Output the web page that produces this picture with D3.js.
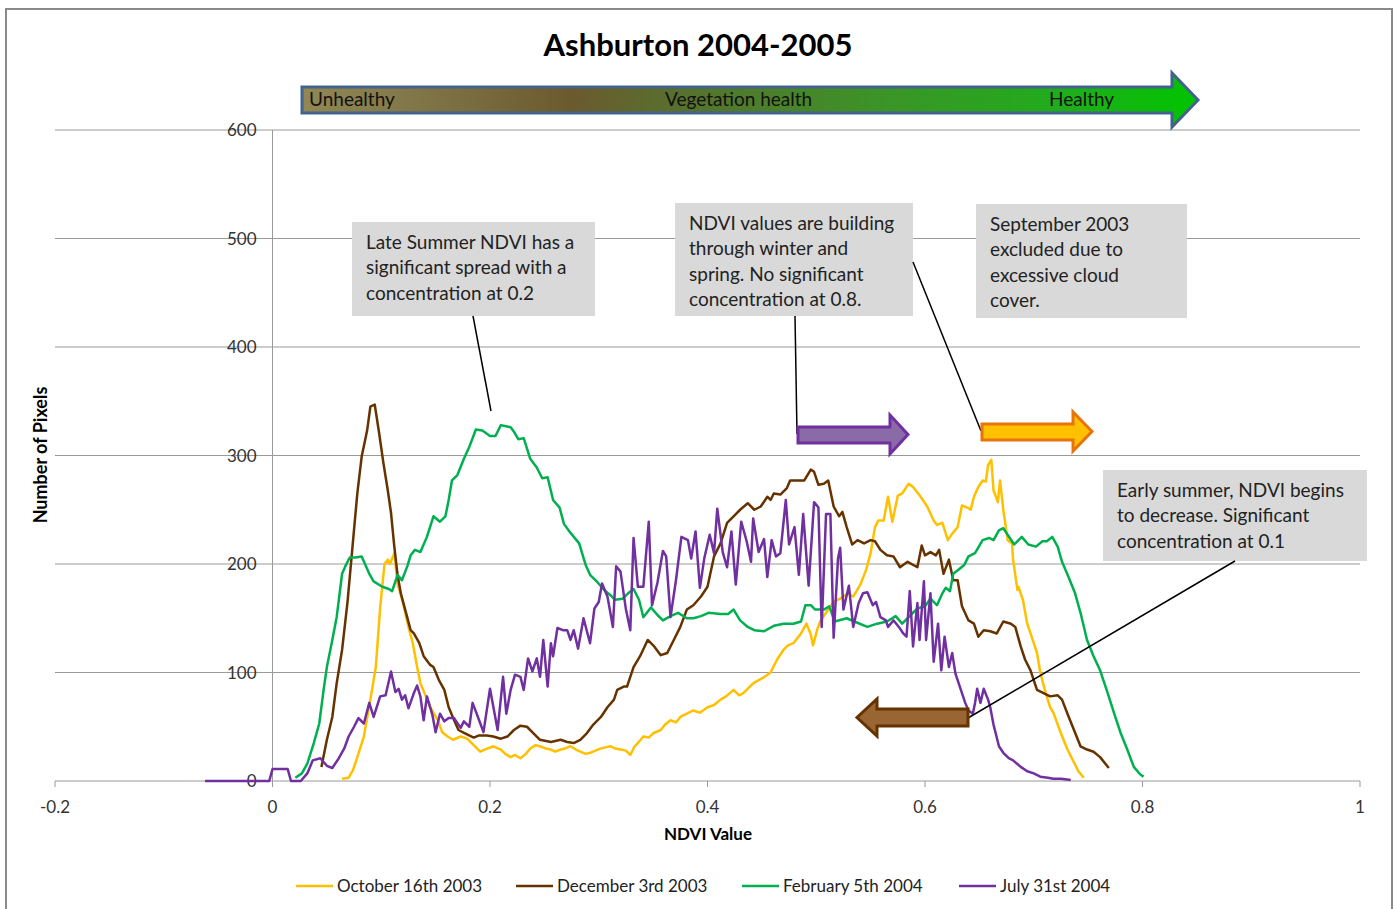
<!DOCTYPE html>
<html>
<head>
<meta charset="utf-8">
<script src="https://cdn.jsdelivr.net/npm/d3@7"></script>
<style>
  body { margin: 0; background: #fff; }
  svg text { font-family: Lato, "Open Sans", sans-serif; }
</style>
</head>
<body>
<svg id="chart" width="1397" height="909"></svg>
<script>
// values: [NDVI, number of pixels]
var october = [[0.064,2],[0.070,3],[0.074,10],[0.078,22],[0.084,41],[0.090,75],[0.095,105],[0.099,160],[0.103,200],[0.106,204],[0.108,200],[0.112,210],[0.115,182],[0.120,164],[0.125,142],[0.129,127],[0.133,105],[0.136,90],[0.141,78],[0.145,68],[0.152,56],[0.156,45],[0.161,41],[0.166,38],[0.173,41],[0.179,39],[0.185,33],[0.191,27],[0.198,30],[0.203,32],[0.210,29],[0.214,25],[0.219,22],[0.223,24],[0.228,21],[0.233,25],[0.237,30],[0.242,33],[0.246,32],[0.251,30],[0.256,29],[0.260,27],[0.265,29],[0.269,30],[0.274,32],[0.279,29],[0.283,27],[0.288,25],[0.292,26],[0.297,28],[0.302,30],[0.306,31],[0.311,32],[0.315,30],[0.320,29],[0.325,28],[0.329,24],[0.333,32],[0.336,35],[0.341,41],[0.346,40],[0.350,44],[0.357,47],[0.361,52],[0.366,56],[0.371,54],[0.375,59],[0.381,62],[0.387,65],[0.393,63],[0.400,68],[0.406,70],[0.412,75],[0.417,78],[0.424,84],[0.429,79],[0.433,81],[0.438,86],[0.442,90],[0.447,93],[0.451,95],[0.458,100],[0.464,112],[0.470,121],[0.474,125],[0.479,127],[0.486,136],[0.491,145],[0.495,135],[0.497,125],[0.501,140],[0.504,148],[0.509,155],[0.516,165],[0.522,168],[0.529,173],[0.534,170],[0.541,182],[0.546,195],[0.550,210],[0.554,234],[0.557,240],[0.562,240],[0.566,262],[0.570,239],[0.575,263],[0.579,265],[0.585,274],[0.589,271],[0.596,262],[0.602,253],[0.608,240],[0.611,236],[0.616,238],[0.621,222],[0.625,228],[0.630,234],[0.634,254],[0.639,252],[0.642,250],[0.645,262],[0.649,271],[0.653,277],[0.656,276],[0.658,291],[0.661,296],[0.663,268],[0.667,257],[0.669,277],[0.672,250],[0.676,222],[0.680,219],[0.681,204],[0.685,176],[0.686,179],[0.690,167],[0.694,145],[0.699,130],[0.703,118],[0.706,100],[0.711,81],[0.715,68],[0.718,63],[0.725,44],[0.731,29],[0.737,17],[0.741,9],[0.746,3]];

var december = [[0.045,13],[0.050,38],[0.055,59],[0.059,90],[0.064,121],[0.069,165],[0.075,232],[0.078,265],[0.082,299],[0.087,323],[0.090,345],[0.094,347],[0.098,321],[0.102,293],[0.106,268],[0.109,247],[0.112,216],[0.115,190],[0.118,173],[0.122,158],[0.127,139],[0.130,136],[0.135,127],[0.139,115],[0.145,107],[0.148,105],[0.153,93],[0.158,84],[0.162,68],[0.167,56],[0.171,47],[0.177,44],[0.185,40],[0.190,42],[0.197,42],[0.203,41],[0.210,39],[0.216,41],[0.222,47],[0.228,51],[0.234,50],[0.240,44],[0.246,38],[0.256,36],[0.265,38],[0.271,36],[0.277,35],[0.283,38],[0.289,44],[0.295,52],[0.302,59],[0.308,68],[0.314,75],[0.317,84],[0.323,87],[0.326,87],[0.332,105],[0.338,115],[0.345,130],[0.351,124],[0.357,116],[0.363,118],[0.369,130],[0.375,142],[0.381,158],[0.387,162],[0.394,170],[0.400,179],[0.406,207],[0.412,219],[0.418,238],[0.424,244],[0.430,250],[0.437,256],[0.443,250],[0.449,253],[0.455,262],[0.458,259],[0.461,265],[0.467,264],[0.473,270],[0.476,277],[0.489,277],[0.495,287],[0.498,285],[0.502,273],[0.507,274],[0.511,277],[0.516,253],[0.521,244],[0.524,248],[0.528,234],[0.533,218],[0.538,222],[0.544,219],[0.550,222],[0.554,221],[0.559,213],[0.565,208],[0.571,207],[0.577,197],[0.584,202],[0.593,197],[0.597,217],[0.600,208],[0.605,211],[0.610,208],[0.613,213],[0.617,191],[0.622,204],[0.626,185],[0.630,185],[0.634,161],[0.640,148],[0.645,145],[0.649,133],[0.654,139],[0.660,138],[0.666,136],[0.672,147],[0.679,145],[0.683,142],[0.688,124],[0.692,112],[0.697,102],[0.703,84],[0.709,81],[0.715,78],[0.722,79],[0.726,75],[0.731,62],[0.737,47],[0.743,32],[0.749,29],[0.755,27],[0.761,22],[0.769,12]];

var february = [[0.021,3],[0.027,7],[0.032,16],[0.038,35],[0.043,53],[0.047,84],[0.050,105],[0.055,130],[0.059,151],[0.064,191],[0.067,198],[0.071,206],[0.076,206],[0.082,207],[0.089,191],[0.093,184],[0.101,179],[0.107,177],[0.110,175],[0.115,190],[0.119,185],[0.124,198],[0.127,208],[0.131,213],[0.136,211],[0.142,225],[0.148,244],[0.154,239],[0.159,244],[0.162,259],[0.165,277],[0.170,282],[0.176,297],[0.181,308],[0.187,324],[0.193,323],[0.200,318],[0.205,318],[0.210,328],[0.219,326],[0.222,322],[0.226,315],[0.231,316],[0.237,297],[0.243,289],[0.248,279],[0.253,280],[0.258,259],[0.264,252],[0.268,237],[0.273,230],[0.282,219],[0.288,199],[0.292,190],[0.299,183],[0.305,176],[0.311,171],[0.315,167],[0.322,168],[0.327,173],[0.332,177],[0.337,167],[0.341,151],[0.348,160],[0.354,153],[0.359,148],[0.366,152],[0.373,155],[0.381,150],[0.387,150],[0.394,152],[0.401,155],[0.412,154],[0.419,154],[0.424,158],[0.430,148],[0.437,142],[0.443,139],[0.452,138],[0.461,143],[0.470,145],[0.479,145],[0.486,147],[0.490,162],[0.495,162],[0.499,158],[0.507,158],[0.512,161],[0.517,147],[0.528,150],[0.535,147],[0.547,142],[0.556,145],[0.565,147],[0.573,152],[0.579,145],[0.587,153],[0.593,159],[0.600,161],[0.605,168],[0.611,162],[0.616,173],[0.619,178],[0.623,175],[0.626,191],[0.631,195],[0.636,199],[0.640,207],[0.646,210],[0.653,222],[0.659,224],[0.663,222],[0.668,231],[0.672,233],[0.682,218],[0.689,225],[0.695,218],[0.702,216],[0.708,221],[0.712,221],[0.717,225],[0.722,216],[0.726,202],[0.732,188],[0.738,173],[0.743,155],[0.749,130],[0.755,115],[0.761,102],[0.768,81],[0.774,62],[0.780,44],[0.786,29],[0.792,13],[0.798,6],[0.801,4]];

var july = [[-0.062,0],[-0.003,0],[0.000,11],[0.014,11],[0.017,0],[0.026,0],[0.032,7],[0.037,19],[0.044,21],[0.050,14],[0.055,12],[0.061,21],[0.066,30],[0.070,41],[0.075,50],[0.079,58],[0.084,53],[0.089,72],[0.093,59],[0.099,78],[0.104,79],[0.109,101],[0.113,82],[0.116,85],[0.119,75],[0.122,79],[0.125,67],[0.130,81],[0.133,88],[0.136,78],[0.139,56],[0.142,78],[0.147,61],[0.150,45],[0.154,62],[0.158,55],[0.162,58],[0.167,58],[0.173,49],[0.176,55],[0.181,50],[0.184,72],[0.190,56],[0.194,45],[0.200,85],[0.207,47],[0.212,96],[0.215,62],[0.219,84],[0.223,98],[0.228,96],[0.231,84],[0.235,113],[0.239,101],[0.243,113],[0.246,96],[0.249,130],[0.253,87],[0.256,127],[0.258,115],[0.262,141],[0.267,139],[0.271,139],[0.274,130],[0.277,139],[0.281,122],[0.286,150],[0.292,127],[0.296,159],[0.300,165],[0.303,182],[0.308,170],[0.313,142],[0.316,198],[0.320,193],[0.325,158],[0.329,139],[0.332,224],[0.336,179],[0.341,179],[0.346,239],[0.349,162],[0.354,183],[0.359,212],[0.362,207],[0.366,151],[0.371,185],[0.376,225],[0.382,222],[0.385,205],[0.389,230],[0.393,178],[0.397,205],[0.402,227],[0.406,210],[0.409,251],[0.414,211],[0.418,197],[0.422,230],[0.426,181],[0.431,239],[0.436,221],[0.440,202],[0.442,242],[0.447,211],[0.452,223],[0.455,188],[0.459,222],[0.463,207],[0.467,210],[0.472,259],[0.475,218],[0.480,234],[0.484,190],[0.488,246],[0.493,180],[0.498,257],[0.502,252],[0.505,142],[0.509,246],[0.513,246],[0.516,132],[0.520,205],[0.522,215],[0.525,158],[0.530,180],[0.534,142],[0.539,164],[0.543,173],[0.547,174],[0.552,162],[0.555,165],[0.559,151],[0.564,148],[0.566,142],[0.571,148],[0.576,142],[0.580,136],[0.583,133],[0.586,175],[0.589,124],[0.593,164],[0.595,130],[0.599,184],[0.601,130],[0.605,173],[0.608,110],[0.612,145],[0.615,102],[0.618,133],[0.622,105],[0.625,118],[0.628,99],[0.631,90],[0.635,78],[0.637,72],[0.640,65],[0.644,62],[0.646,72],[0.648,85],[0.651,72],[0.654,85],[0.658,75],[0.660,68],[0.663,52],[0.668,32],[0.672,26],[0.677,21],[0.681,19],[0.688,13],[0.694,9],[0.700,7],[0.706,4],[0.713,3],[0.718,2],[0.725,2],[0.734,1]];

var seriesNames = ["October 16th 2003", "December 3rd 2003", "February 5th 2004", "July 31st 2004"];
var seriesColors = ["#FFC000", "#663300", "#00B050", "#7030A0"];
var yTicks = [0, 100, 200, 300, 400, 500, 600];
var xTicks = [-0.2, 0, 0.2, 0.4, 0.6, 0.8, 1];

var callouts = [
  {x: 352, y: 222, w: 243, h: 94, lines: ["Late Summer NDVI has a", "significant spread with a", "concentration at 0.2"]},
  {x: 675, y: 203, w: 238, h: 113, lines: ["NDVI values are building", "through winter and", "spring. No significant", "concentration at 0.8."]},
  {x: 976, y: 204, w: 211, h: 114, lines: ["September 2003", "excluded due to", "excessive cloud", "cover."]},
  {x: 1103, y: 470, w: 264, h: 91, lines: ["Early summer, NDVI begins", "to decrease. Significant", "concentration at 0.1"]}
];

var svg = d3.select("#chart");

// outer frame
svg.append("rect")
  .attr("x", 6).attr("y", 9)
  .attr("width", 1386).attr("height", 920)
  .attr("fill", "none").attr("stroke", "#8a8a8a").attr("stroke-width", 2);

var x = d3.scaleLinear().domain([-0.2, 1]).range([55, 1360]);
var y = d3.scaleLinear().domain([0, 600]).range([781, 130]);

// gridlines
svg.append("g").selectAll("line")
  .data(yTicks)
  .enter().append("line")
    .attr("x1", x(-0.2)).attr("x2", x(1))
    .attr("y1", function(d) { return y(d); })
    .attr("y2", function(d) { return y(d); })
    .attr("stroke", "#999").attr("stroke-width", 1);

// vertical axis at 0
svg.append("line")
  .attr("x1", x(0)).attr("x2", x(0))
  .attr("y1", y(0)).attr("y2", y(600))
  .attr("stroke", "#999").attr("stroke-width", 1);

// x ticks
svg.append("g").selectAll("line")
  .data(xTicks)
  .enter().append("line")
    .attr("x1", function(d) { return x(d); })
    .attr("x2", function(d) { return x(d); })
    .attr("y1", y(0)).attr("y2", y(0) + 6)
    .attr("stroke", "#999");

svg.append("g").selectAll("text")
  .data(xTicks)
  .enter().append("text")
    .attr("x", function(d) { return x(d); })
    .attr("y", y(0) + 32)
    .attr("text-anchor", "middle")
    .attr("font-size", 17).attr("fill", "#333")
    .text(function(d) { return String(d); });

svg.append("g").selectAll("text")
  .data(yTicks)
  .enter().append("text")
    .attr("x", x(0) - 16)
    .attr("y", function(d) { return y(d) + 6; })
    .attr("text-anchor", "end")
    .attr("font-size", 17).attr("fill", "#333")
    .text(function(d) { return d; });

// axis titles
svg.append("text")
  .attr("x", 708).attr("y", 840)
  .attr("text-anchor", "middle")
  .attr("font-size", 17).attr("font-weight", "bold")
  .text("NDVI Value");

svg.append("text")
  .attr("transform", "translate(47,455) rotate(-90)")
  .attr("text-anchor", "middle")
  .attr("font-size", 18).attr("font-weight", "bold")
  .text("Number of Pixels");

// title
svg.append("text")
  .attr("x", 698).attr("y", 56)
  .attr("text-anchor", "middle")
  .attr("font-size", 31).attr("font-weight", "bold")
  .text("Ashburton 2004-2005");

// vegetation health arrow
var defs = svg.append("defs");
var grad = defs.append("linearGradient").attr("id", "health")
  .attr("x1", "0%").attr("x2", "100%").attr("y1", "0%").attr("y2", "0%");
[["0%", "#918855"], ["14%", "#7f7446"], ["30%", "#6b5a2e"], ["42%", "#58702e"],
 ["65%", "#3b9428"], ["85%", "#20ad1c"], ["100%", "#00c400"]].forEach(function(s) {
  grad.append("stop").attr("offset", s[0]).attr("stop-color", s[1]);
});

svg.append("path")
  .attr("d", "M302,87 L1172,87 L1172,73 L1198,100 L1172,127 L1172,113 L302,113 Z")
  .attr("fill", "url(#health)")
  .attr("stroke", "#42638c").attr("stroke-width", 3);

[["Unhealthy", 309], ["Vegetation health", 665], ["Healthy", 1049]].forEach(function(t) {
  svg.append("text")
    .attr("x", t[1]).attr("y", 106)
    .attr("font-size", 19).attr("fill", "#111")
    .text(t[0]);
});

// series lines
var line = d3.line()
  .x(function(d) { return x(d[0]); })
  .y(function(d) { return y(d[1]); });

[october, december, february, july].forEach(function(data, i) {
  svg.append("path")
    .datum(data)
    .attr("fill", "none")
    .attr("stroke", seriesColors[i])
    .attr("stroke-width", 2.5)
    .attr("stroke-linejoin", "round")
    .attr("d", line);
});

// callout boxes
callouts.forEach(function(c) {
  svg.append("rect")
    .attr("x", c.x).attr("y", c.y)
    .attr("width", c.w).attr("height", c.h)
    .attr("fill", "#d9d9d9");
  c.lines.forEach(function(l, j) {
    svg.append("text")
      .attr("x", c.x + 14).attr("y", c.y + 27 + j * 25.3)
      .attr("font-size", 19).attr("fill", "#222")
      .text(l);
  });
});

// connector lines
[[473, 316, 491, 411], [795, 316, 797, 434], [913, 262, 981, 431], [1235, 561, 968, 718]].forEach(function(l) {
  svg.append("line")
    .attr("x1", l[0]).attr("y1", l[1]).attr("x2", l[2]).attr("y2", l[3])
    .attr("stroke", "#000").attr("stroke-width", 1.5);
});

// block arrows
function blockArrow(x0, x1, xTip, yTop, yBot, headTop, headBot) {
  var yc = (headTop + headBot) / 2;
  return "M" + x0 + "," + yTop + " L" + x1 + "," + yTop + " L" + x1 + "," + headTop +
    " L" + xTip + "," + yc + " L" + x1 + "," + headBot + " L" + x1 + "," + yBot +
    " L" + x0 + "," + yBot + " Z";
}

svg.append("path")
  .attr("d", blockArrow(798, 890, 908, 427, 443, 415, 454))
  .attr("fill", "#8b6aa8").attr("stroke", "#7030a0").attr("stroke-width", 3)
  .attr("stroke-linejoin", "miter");

svg.append("path")
  .attr("d", blockArrow(982, 1073, 1092, 424, 440, 412, 451))
  .attr("fill", "#ffc000").attr("stroke", "#e8720c").attr("stroke-width", 3);

svg.append("path")
  .attr("d", blockArrow(968, 877, 857, 709, 726, 699, 736))
  .attr("fill", "#996633").attr("stroke", "#663300").attr("stroke-width", 3);

// legend
var legendX = [296, 516, 742, 959];
seriesNames.forEach(function(name, i) {
  var g = svg.append("g").attr("transform", "translate(" + legendX[i] + ",886)");
  g.append("line")
    .attr("x1", 0).attr("x2", 37).attr("y1", 0).attr("y2", 0)
    .attr("stroke", seriesColors[i]).attr("stroke-width", 2.5);
  g.append("text")
    .attr("x", 41).attr("y", 6)
    .attr("font-size", 17).attr("fill", "#222")
    .text(name);
});
</script>
</body>
</html>
